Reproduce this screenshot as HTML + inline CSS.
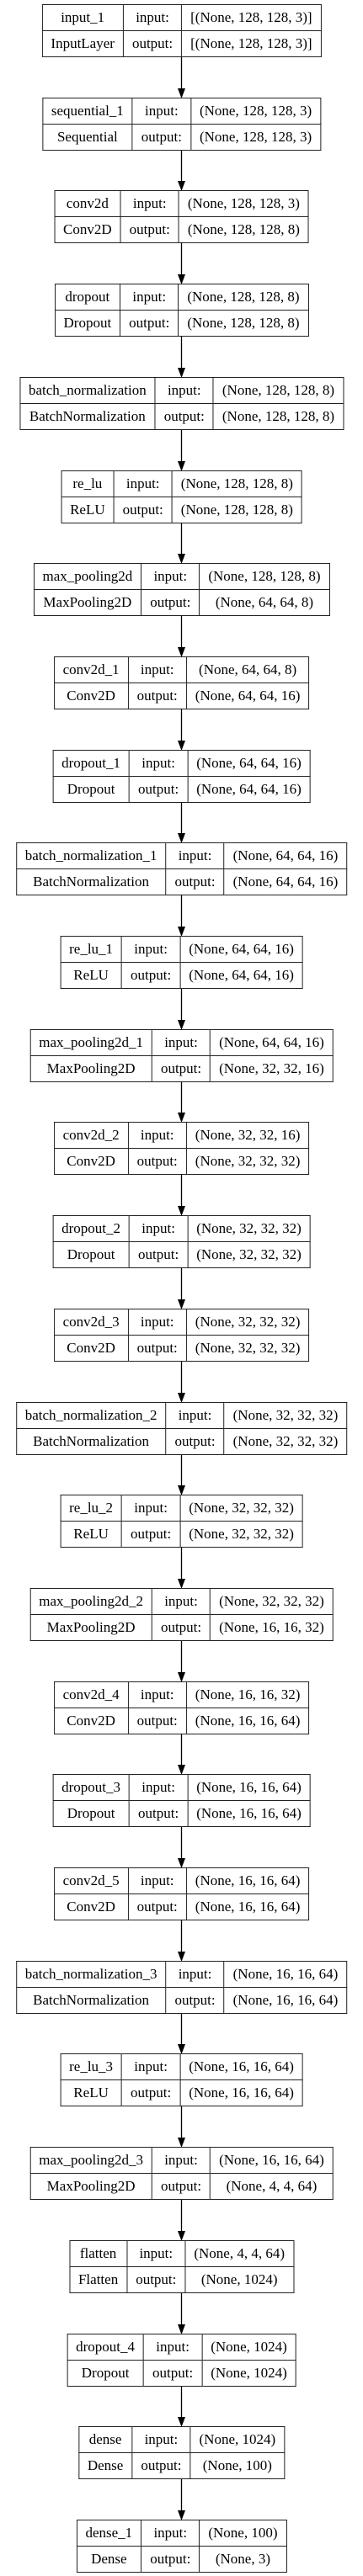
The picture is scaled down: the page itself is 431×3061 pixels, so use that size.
<!DOCTYPE html>
<html><head><meta charset="utf-8"><style>
html,body{margin:0;padding:0;background:#fff;width:431px;height:3061px;overflow:hidden;position:relative}
.n{position:absolute;left:215.5px;transform:translateX(-50%);width:max-content}
table{border-collapse:collapse;font-family:"Liberation Serif",serif;font-size:17px;color:#000;background:#fff}
td{border:1px solid #222;height:30px;padding:0 10px;text-align:center;white-space:nowrap;line-height:30px;box-sizing:border-box}
svg{position:absolute;left:0;top:0}
</style></head><body>
<svg width="431" height="3061" id="s"></svg>
<div id="c"></div>
<script>
var L=[["input_1","InputLayer","[(None, 128, 128, 3)]","[(None, 128, 128, 3)]"],
["sequential_1","Sequential","(None, 128, 128, 3)","(None, 128, 128, 3)"],
["conv2d","Conv2D","(None, 128, 128, 3)","(None, 128, 128, 8)"],
["dropout","Dropout","(None, 128, 128, 8)","(None, 128, 128, 8)"],
["batch_normalization","BatchNormalization","(None, 128, 128, 8)","(None, 128, 128, 8)"],
["re_lu","ReLU","(None, 128, 128, 8)","(None, 128, 128, 8)"],
["max_pooling2d","MaxPooling2D","(None, 128, 128, 8)","(None, 64, 64, 8)"],
["conv2d_1","Conv2D","(None, 64, 64, 8)","(None, 64, 64, 16)"],
["dropout_1","Dropout","(None, 64, 64, 16)","(None, 64, 64, 16)"],
["batch_normalization_1","BatchNormalization","(None, 64, 64, 16)","(None, 64, 64, 16)"],
["re_lu_1","ReLU","(None, 64, 64, 16)","(None, 64, 64, 16)"],
["max_pooling2d_1","MaxPooling2D","(None, 64, 64, 16)","(None, 32, 32, 16)"],
["conv2d_2","Conv2D","(None, 32, 32, 16)","(None, 32, 32, 32)"],
["dropout_2","Dropout","(None, 32, 32, 32)","(None, 32, 32, 32)"],
["conv2d_3","Conv2D","(None, 32, 32, 32)","(None, 32, 32, 32)"],
["batch_normalization_2","BatchNormalization","(None, 32, 32, 32)","(None, 32, 32, 32)"],
["re_lu_2","ReLU","(None, 32, 32, 32)","(None, 32, 32, 32)"],
["max_pooling2d_2","MaxPooling2D","(None, 32, 32, 32)","(None, 16, 16, 32)"],
["conv2d_4","Conv2D","(None, 16, 16, 32)","(None, 16, 16, 64)"],
["dropout_3","Dropout","(None, 16, 16, 64)","(None, 16, 16, 64)"],
["conv2d_5","Conv2D","(None, 16, 16, 64)","(None, 16, 16, 64)"],
["batch_normalization_3","BatchNormalization","(None, 16, 16, 64)","(None, 16, 16, 64)"],
["re_lu_3","ReLU","(None, 16, 16, 64)","(None, 16, 16, 64)"],
["max_pooling2d_3","MaxPooling2D","(None, 16, 16, 64)","(None, 4, 4, 64)"],
["flatten","Flatten","(None, 4, 4, 64)","(None, 1024)"],
["dropout_4","Dropout","(None, 1024)","(None, 1024)"],
["dense","Dense","(None, 1024)","(None, 100)"],
["dense_1","Dense","(None, 100)","(None, 3)"]];
var h="",s="";
for(var i=0;i<L.length;i++){var t=Math.round(5+i*110.7),a=L[i];
h+='<div class="n" style="top:'+t+'px"><table><tr><td>'+a[0]+'</td><td>input:</td><td>'+a[2]+'</td></tr><tr><td>'+a[1]+'</td><td>output:</td><td>'+a[3]+'</td></tr></table></div>';
if(i<L.length-1){var b=t+62,n=Math.round(5+(i+1)*110.7);
s+='<line x1="215.5" y1="'+b+'" x2="215.5" y2="'+(n-10)+'" stroke="#000" stroke-width="1.3"/><polygon points="211,'+(n-11)+' 220,'+(n-11)+' 215.5,'+(n+1)+'" fill="#000"/>';}}
document.getElementById("c").innerHTML=h;document.getElementById("s").innerHTML=s;
</script>
</body></html>
